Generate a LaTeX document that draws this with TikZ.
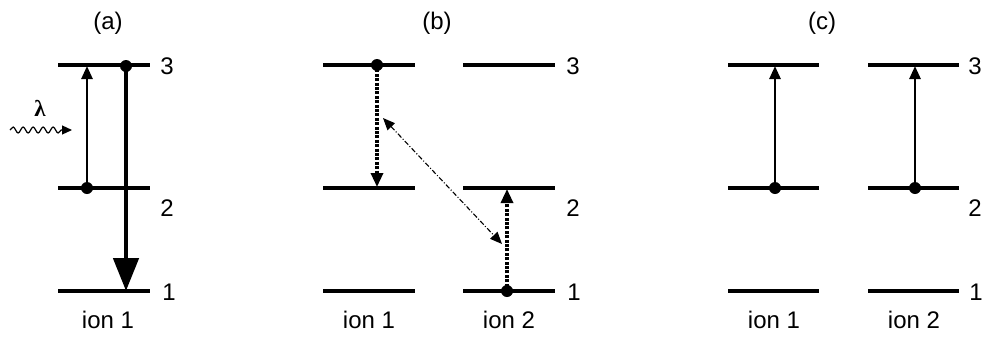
\documentclass[tikz,border=0pt]{standalone}
\usepackage{fontspec}
\setmainfont{Liberation Sans}
\newfontfamily\lamfont{Liberation Serif}
\usetikzlibrary{arrows.meta,decorations.pathmorphing}
\begin{document}
\begin{tikzpicture}[x=1pt,y=-1pt,
  level/.style={line width=3.2pt},
  lbl/.style={font=\fontsize{24}{28}\selectfont, inner sep=0pt},
  uparrow/.style={line width=2.6pt, -{Triangle[length=13pt,width=11pt]}},
  dasharrow/.style={line width=3.2pt, dash pattern=on 3pt off 1.4pt, -{Triangle[length=14pt,width=12pt]}},
  dot/.style={circle, fill=black, inner sep=0pt, minimum size=12pt},
  ]
\useasboundingbox (0,0) rectangle (982,338);
% ---------- panel (a)
\foreach \n/\y in {3/65,2/188,1/291}{
  \coordinate (aL\n) at (58,\y); \coordinate (aR\n) at (150,\y);
  \draw[level] (aL\n) -- (aR\n);
}
\node[lbl] (la3) at (167,66) {3};
\node[lbl] (la2) at (167,208) {2};
\node[lbl] (la1) at (169,292) {1};
\node[lbl] (ta) at (108,23) {(a)};
\node[lbl] (ia) at (108,320) {ion 1};
\node[dot] (ad2) at (87,188) {};
\coordinate (aa3) at (87,66);
\draw[uparrow] (ad2.center) -- (aa3);
\node[dot] (ad3) at (126,66) {};
\coordinate (ab1) at (126,291);
\draw[line width=4.8pt, -{Triangle[length=33pt,width=25pt]}] (ad3.center) -- (ab1);
\coordinate (ws) at (10,130); \coordinate (we) at (72,130);
\draw[line width=1.2pt, decorate, decoration={snake, amplitude=3pt, segment length=10pt, post length=10pt}, -{Triangle[length=10pt,width=9pt]}] (ws) -- (we);
\node[inner sep=0pt, font=\fontsize{23}{25}\selectfont\lamfont\bfseries] (lam) at (40,108) {λ};
% ---------- panel (b)
\foreach \n/\y in {3/65,2/188,1/291}{
  \coordinate (bL\n) at (323,\y); \coordinate (bR\n) at (415,\y);
  \draw[level] (bL\n) -- (bR\n);
  \coordinate (cL\n) at (463,\y); \coordinate (cR\n) at (555,\y);
  \draw[level] (cL\n) -- (cR\n);
}
\node[lbl] (lb3) at (573,66) {3};
\node[lbl] (lb2) at (573,208) {2};
\node[lbl] (lb1) at (574,292) {1};
\node[lbl] (tb) at (437,23) {(b)};
\node[lbl] (ib1) at (369,320) {ion 1};
\node[lbl] (ib2) at (509,320) {ion 2};
\node[dot] (bd3) at (377,65) {};
\coordinate (bb2) at (377,187);
\draw[dasharrow] (bd3.center) -- (bb2);
\node[dot] (cd1) at (507,291) {};
\coordinate (cb2) at (507,189);
\draw[dasharrow] (cd1.center) -- (cb2);
\coordinate (x1) at (383,118); \coordinate (x2) at (502,244);
\draw[line width=1.1pt, dash pattern=on 5pt off 2pt on 1pt off 2pt, {Triangle[length=12pt,width=10pt]}-{Triangle[length=12pt,width=10pt]}] (x1) -- (x2);
% ---------- panel (c)
\foreach \n/\y in {3/65,2/188,1/291}{
  \coordinate (dL\n) at (728,\y); \coordinate (dR\n) at (819,\y);
  \draw[level] (dL\n) -- (dR\n);
  \coordinate (eL\n) at (868,\y); \coordinate (eR\n) at (959,\y);
  \draw[level] (eL\n) -- (eR\n);
}
\node[lbl] (lc3) at (975,66) {3};
\node[lbl] (lc2) at (975,208) {2};
\node[lbl] (lc1) at (976,292) {1};
\node[lbl] (tc) at (822,23) {(c)};
\node[lbl] (ic1) at (774,320) {ion 1};
\node[lbl] (ic2) at (914,320) {ion 2};
\node[dot] (dd2) at (775,188) {};
\coordinate (da3) at (775,66);
\draw[uparrow] (dd2.center) -- (da3);
\node[dot] (ed2) at (915,188) {};
\coordinate (ea3) at (915,66);
\draw[uparrow] (ed2.center) -- (ea3);
\end{tikzpicture}
\end{document}
